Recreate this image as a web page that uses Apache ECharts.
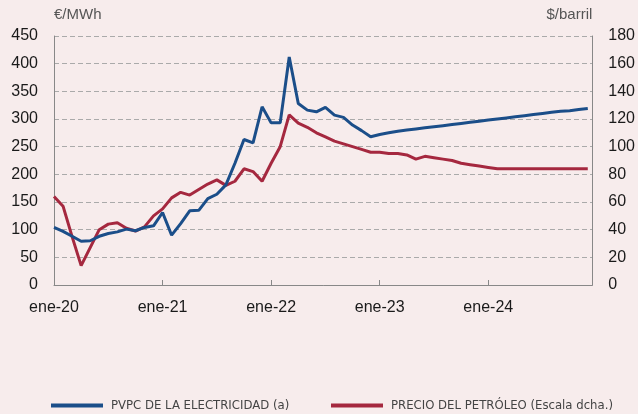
<!DOCTYPE html>
<html>
<head>
<meta charset="utf-8">
<script src="https://cdn.jsdelivr.net/npm/echarts@6/dist/echarts.min.js"></script>
<style>
html,body{margin:0;padding:0;background:#f7ecec;}
#chart{width:638px;height:414px;}
</style>
</head>
<body>
<div id="chart"></div>
<script>
const monthNames = ['ene','feb','mar','abr','may','jun','jul','ago','sep','oct','nov','dic'];
const yearSuffixes = ['20','21','22','23','24'];
const months = [];
yearSuffixes.forEach(y => monthNames.forEach(m => months.push(m + '-' + y)));

const tickLabels = ['ene-20','ene-21','ene-22','ene-23','ene-24'];
const seriesNames = ['PVPC DE LA ELECTRICIDAD (a)','PRECIO DEL PETRÓLEO (Escala dcha.)'];

// PVPC de la electricidad (€/MWh), left axis
const pvpc = [104,97,88,79,80,88,93,96,101,98,104,107,
              131,90,111,134,135,156,164,181,220,263,257,322,
              293,293,412,328,316,313,321,307,303,289,279,268,
              272,275,278,280,282,284,286,288,290,292,294,296,
              298,300,302,304,306,308,310,312,314,315,317,319];

// Precio del petróleo ($/barril), right axis
const brent = [64,57,35,14,27,40,44,45,41,39,42,50,
               55,63,67,65,69,73,76,72,75,84,82,75,
               88,100,123,117,114,110,107,104,102,100,98,96,
               96,95,95,94,91,93,92,91,90,88,87,86,
               85,84,84,84,84,84,84,84,84,84,84,84];

const leftTicks = {min:0, max:450, interval:50};
const rightTicks = {min:0, max:180, interval:20};

const chart = echarts.init(document.getElementById('chart'), null, {renderer:'canvas'});
const axisFont = {fontFamily:'Liberation Sans, Arial, sans-serif', fontSize:16, color:'#1a1a1a'};
const legendText = {fontFamily:'Liberation Sans Narrow, DejaVu Sans Condensed, sans-serif', fontSize:13, color:'#444', padding:[0,0,0,3]};

function makeLegend(name, left){
  return {
    left:left, top:399, padding:0,
    itemWidth:52, itemHeight:4,
    icon:'rect',
    textStyle:legendText,
    data:[name]
  };
}

chart.setOption({
  backgroundColor:'#f7ecec',
  animation:false,
  grid:{left:54, right:43, top:36, bottom:129},
  legend:[makeLegend(seriesNames[0], 51), makeLegend(seriesNames[1], 331)],
  xAxis:{
    type:'value', min:0, max:59.5, interval:12,
    axisLine:{show:true, lineStyle:{color:'#888', width:1}},
    axisTick:{show:true, inside:true, length:5, lineStyle:{color:'#888'}},
    axisLabel:Object.assign({margin:15, formatter:v => tickLabels[Math.round(v/12)] || ''}, axisFont),
    splitLine:{show:false}
  },
  yAxis:[
    {
      type:'value', min:leftTicks.min, max:leftTicks.max, interval:leftTicks.interval,
      name:'€/MWh', nameLocation:'end', nameGap:14,
      nameTextStyle:{fontFamily:'Liberation Sans, Arial, sans-serif', fontSize:15, color:'#555', align:'left'},
      axisLine:{show:true, lineStyle:{color:'#888', width:1}},
      axisTick:{show:false},
      axisLabel:Object.assign({margin:16}, axisFont),
      splitLine:{show:true, lineStyle:{color:'#aaa', type:[5,3], width:1}}
    },
    {
      type:'value', min:rightTicks.min, max:rightTicks.max, interval:rightTicks.interval,
      position:'right',
      name:'$/barril', nameLocation:'end', nameGap:14,
      nameTextStyle:{fontFamily:'Liberation Sans, Arial, sans-serif', fontSize:15, color:'#555', align:'right'},
      axisLine:{show:true, lineStyle:{color:'#888', width:1}},
      axisTick:{show:false},
      axisLabel:Object.assign({margin:16}, axisFont),
      splitLine:{show:false}
    }
  ],
  series:[
    {
      name:seriesNames[0], type:'line', yAxisIndex:0,
      data:months.map((m,i)=>[i, pvpc[i]]),
      showSymbol:false, symbol:'none',
      lineStyle:{color:'#1b4e89', width:3},
      itemStyle:{color:'#1b4e89'},
      z:3
    },
    {
      name:seriesNames[1], type:'line', yAxisIndex:1,
      data:months.map((m,i)=>[i, brent[i]]),
      showSymbol:false, symbol:'none',
      lineStyle:{color:'#a5283f', width:3},
      itemStyle:{color:'#a5283f'},
      z:2
    }
  ]
});
</script>
</body>
</html>
